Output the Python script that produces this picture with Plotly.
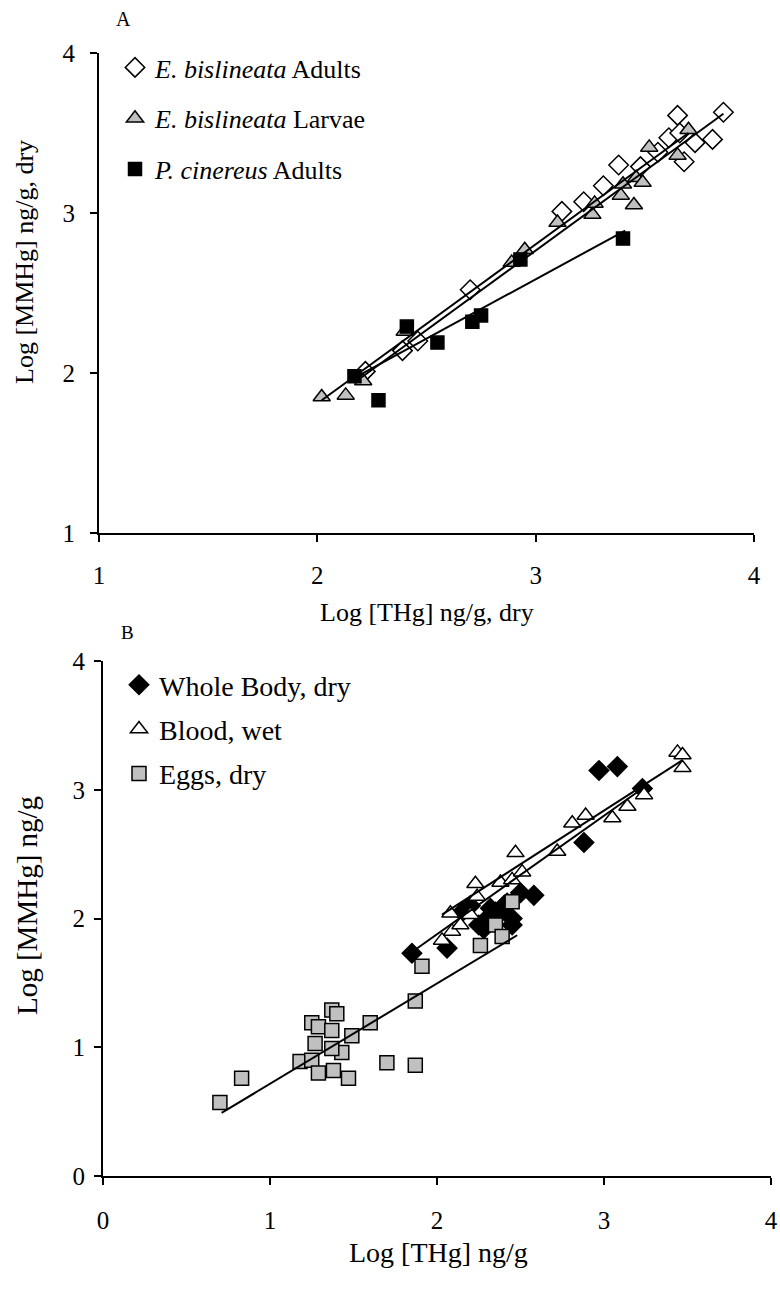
import plotly.graph_objects as go

# ---------------- Panel A data ----------------
adult_x = [2.22, 2.39, 2.46, 2.70, 3.12, 3.22, 3.31, 3.38, 3.48, 3.56, 3.61, 3.65, 3.66, 3.73, 3.81, 3.68, 3.86]
adult_y = [2.01, 2.14, 2.20, 2.52, 3.01, 3.07, 3.17, 3.30, 3.29, 3.38, 3.47, 3.61, 3.50, 3.44, 3.46, 3.32, 3.63]

larvae_x = [2.02, 2.13, 2.21, 2.40, 2.89, 2.95, 3.10, 3.26, 3.27, 3.39, 3.45, 3.40, 3.46, 3.49, 3.52, 3.65, 3.70]
larvae_y = [1.85, 1.86, 1.95, 2.26, 2.69, 2.77, 2.94, 2.99, 3.06, 3.11, 3.05, 3.18, 3.22, 3.19, 3.41, 3.36, 3.52]

cin_x = [2.17, 2.28, 2.41, 2.55, 2.71, 2.75, 2.93, 3.40]
cin_y = [1.98, 1.83, 2.29, 2.19, 2.32, 2.36, 2.71, 2.84]

# regression lines (end points)
adult_fit_x = [2.20, 3.86]
adult_fit_y = [1.97, 3.62]
larvae_fit_x = [2.02, 3.70]
larvae_fit_y = [1.83, 3.50]
cin_fit_x = [2.17, 3.41]
cin_fit_y = [1.97, 2.89]

# ---------------- Panel B data ----------------
wb_x = [1.85, 2.06, 2.15, 2.20, 2.25, 2.28, 2.30, 2.32, 2.35, 2.38, 2.40, 2.42, 2.45, 2.45, 2.50, 2.58, 2.88, 2.97, 3.08, 3.23]
wb_y = [1.73, 1.77, 2.05, 2.10, 1.95, 1.92, 2.00, 2.08, 2.05, 2.05, 2.10, 2.12, 1.95, 2.00, 2.20, 2.18, 2.59, 3.15, 3.18, 3.01]

blood_x = [2.03, 2.09, 2.08, 2.14, 2.20, 2.23, 2.24, 2.38, 2.45, 2.47, 2.51, 2.72, 2.81, 2.89, 3.05, 3.14, 3.24, 3.44, 3.47, 3.47]
blood_y = [1.83, 1.90, 2.04, 1.95, 2.03, 2.27, 2.17, 2.28, 2.30, 2.51, 2.36, 2.52, 2.74, 2.80, 2.78, 2.87, 2.96, 3.29, 3.27, 3.17]

egg_x = [0.70, 0.83, 1.18, 1.25, 1.29, 1.25, 1.29, 1.38, 1.47, 1.43, 1.37, 1.27, 1.37, 1.37, 1.40, 1.49, 1.60, 1.70, 1.87, 1.87, 1.91, 2.26, 2.35, 2.39, 2.45]
egg_y = [0.57, 0.76, 0.89, 1.19, 1.16, 0.90, 0.80, 0.82, 0.76, 0.96, 0.99, 1.03, 1.13, 1.29, 1.26, 1.09, 1.19, 0.88, 0.86, 1.36, 1.63, 1.79, 1.95, 1.86, 2.13]

wb_fit_x = [1.85, 3.23]
wb_fit_y = [1.74, 3.01]
blood_fit_x = [2.03, 3.47]
blood_fit_y = [2.03, 3.23]
egg_fit_x = [0.71, 2.48]
egg_fit_y = [0.49, 1.87]

# ---------------- Text ----------------
a_xtitle = "Log [THg] ng/g, dry"
a_ytitle = "Log [MMHg] ng/g, dry"
b_xtitle = "Log [THg] ng/g"
b_ytitle = "Log [MMHg] ng/g"
a_ticks = [1, 2, 3, 4]
b_ticks = [0, 1, 2, 3, 4]

FONT = "Liberation Serif, Times New Roman, serif"
GRAY = "#c0c0c0"
W, H = 780, 1294

fig = go.Figure()

# Panel A
specs_a = [
    (adult_x, adult_y, adult_fit_x, adult_fit_y, "<i>E. bislineata</i> Adults", "diamond", "white", 15),
    (larvae_x, larvae_y, larvae_fit_x, larvae_fit_y, "<i>E. bislineata</i> Larvae", "triangle-up", GRAY, 15),
    (cin_x, cin_y, cin_fit_x, cin_fit_y, "<i>P. cinereus</i> Adults", "square", "black", 13),
]
for i, (xs, ys, fx, fy, name, sym, col, sz) in enumerate(specs_a):
    fig.add_trace(go.Scatter(x=xs, y=ys, mode="markers", name=name,
                             marker=dict(symbol=sym, color=col, size=sz,
                                         line=dict(color="black", width=1.5)),
                             xaxis="x", yaxis="y", legend="legend",
                             legendgroup="a%d" % i))
for xs, ys, fx, fy, *_ in specs_a:
    fig.add_trace(go.Scatter(x=fx, y=fy, mode="lines", showlegend=False,
                             line=dict(color="black", width=2),
                             xaxis="x", yaxis="y"))

# Panel B
specs_b = [
    (wb_x, wb_y, wb_fit_x, wb_fit_y, "Whole Body, dry", "diamond", "black", 15),
    (blood_x, blood_y, blood_fit_x, blood_fit_y, "Blood, wet", "triangle-up", "white", 15),
    (egg_x, egg_y, egg_fit_x, egg_fit_y, "Eggs, dry", "square", GRAY, 14),
]
for i, (xs, ys, fx, fy, name, sym, col, sz) in enumerate(specs_b):
    fig.add_trace(go.Scatter(x=xs, y=ys, mode="markers", name=name,
                             marker=dict(symbol=sym, color=col, size=sz,
                                         line=dict(color="black", width=1.5)),
                             xaxis="x2", yaxis="y2", legend="legend2",
                             legendgroup="b%d" % i))
for xs, ys, fx, fy, *_ in specs_b:
    fig.add_trace(go.Scatter(x=fx, y=fy, mode="lines", showlegend=False,
                             line=dict(color="black", width=2),
                             xaxis="x2", yaxis="y2"))


def px_x(p):
    return p / W


def px_y(p):
    return 1 - p / H


def axis_style(standoff):
    return dict(showgrid=False, zeroline=False, showline=True, linecolor="black",
                linewidth=2, ticks="outside", tickcolor="black", tickwidth=2,
                ticklen=7, tickfont=dict(family=FONT, size=25, color="black"),
                ticklabelstandoff=standoff, automargin=False)


def ann(text, x, y, size, angle=0):
    return dict(text=text, x=px_x(x), y=px_y(y), xref="paper", yref="paper",
                xanchor="center", yanchor="middle", showarrow=False,
                textangle=angle, font=dict(family=FONT, size=size, color="black"))


fig.update_layout(
    width=W, height=H, margin=dict(l=0, r=0, t=0, b=0, pad=0, autoexpand=False),
    paper_bgcolor="white", plot_bgcolor="white",
    font=dict(family=FONT, color="black"),
    xaxis=dict(domain=[px_x(99), px_x(754)], range=[1, 4], tickvals=a_ticks,
               anchor="y", **axis_style(12)),
    yaxis=dict(domain=[px_y(533), px_y(53)], range=[1, 4], tickvals=a_ticks,
               anchor="x", **axis_style(10)),
    xaxis2=dict(domain=[px_x(103), px_x(771)], range=[0, 4], tickvals=b_ticks,
                anchor="y2", **axis_style(14)),
    yaxis2=dict(domain=[px_y(1176), px_y(661)], range=[0, 4], tickvals=b_ticks,
                anchor="x2", **axis_style(4)),
    legend=dict(x=px_x(115), y=px_y(44), xanchor="left", yanchor="top",
                font=dict(family=FONT, size=26, color="black"),
                bgcolor="rgba(0,0,0,0)", traceorder="grouped", tracegroupgap=14,
                itemwidth=30),
    legend2=dict(x=px_x(119), y=px_y(660), xanchor="left", yanchor="top",
                 font=dict(family=FONT, size=28, color="black"),
                 bgcolor="rgba(0,0,0,0)", traceorder="grouped", tracegroupgap=5,
                 itemwidth=30),
    annotations=[
        ann("A", 123, 19, 20),
        ann("B", 127, 632, 19),
        ann(a_xtitle, 427, 612, 26),
        ann(a_ytitle, 24, 262, 26, -90),
        ann(b_xtitle, 438, 1252, 28),
        ann(b_ytitle, 27, 906, 29, -90),
    ],
)

fig.write_html("out.html")
